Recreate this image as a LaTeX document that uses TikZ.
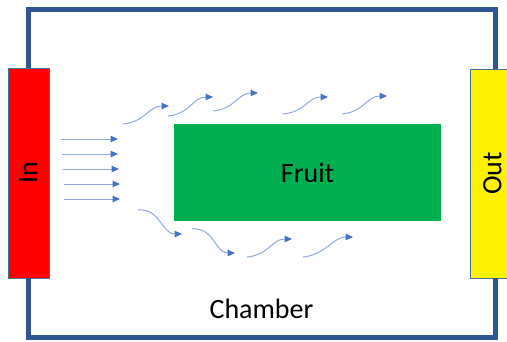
\documentclass[tikz,border=0pt]{standalone}
\usepackage{fontspec}
\setmainfont{Carlito}
\usetikzlibrary{arrows.meta}
\definecolor{wallblue}{HTML}{2F5597}
\definecolor{flowline}{HTML}{8FAADC}
\definecolor{flowtip}{HTML}{4472C4}
\definecolor{boxedge}{HTML}{41719C}
\definecolor{fruitgreen}{HTML}{00B050}
\tikzset{
  wall/.style={draw=wallblue, line width=5pt},
  port/.style={draw=boxedge, line width=0.6pt, inner sep=0pt, font=\fontsize{28}{32}\selectfont},
  flow/.style={draw=flowline, line width=1pt, -{Triangle[length=7.5pt,width=6.5pt,color=flowtip]}},
}

\begin{document}
\begin{tikzpicture}[x=1pt,y=-1pt]
  \useasboundingbox (0,0) rectangle (507,341);

  \node[port, fill=red, minimum width=41pt, minimum height=210pt] (in) at (28.5,173) {\rotatebox{90}{In}};
  \node[port, fill=yellow, minimum width=51pt, minimum height=209pt] (out) at (495.5,173.5) {\rotatebox{90}{Out}\hspace*{6pt}};
  \node[fill=fruitgreen, minimum width=267pt, minimum height=97pt, inner sep=0pt,
        font=\fontsize{28}{32}\selectfont] (fruit) at (307.5,172.5) {Fruit};
  \node[anchor=base, inner sep=0pt, font=\fontsize{28}{32}\selectfont] (chamber) at (261.5,318) {Chamber};

  \draw[wall] (in.north) -- ++(0,-58) -| (out.north);
  \draw[wall] (in.south) -- ++(0,59) -| (out.south);

  \foreach \y/\xa/\xb [count=\i] in {139/61/118, 154/62/118, 169/63/119, 184/64/120, 199/64/120} {
    \coordinate (s\i) at (\xa,\y);
    \coordinate (t\i) at (\xb,\y);
    \draw[flow] (s\i) -- (t\i);
  }

  \foreach \xa/\ya/\xb/\yb [count=\i] in {123/124/169/106, 168/116/213/97, 213/111/258/93,
      283/114/328/97, 342/114/387/96, 138/210/182/234, 192/229/235/253,
      247/257/292/239, 303/257/353/237} {
    \coordinate (w\i) at (\xa,\ya);
    \coordinate (v\i) at (\xb,\yb);
    \draw[flow] (w\i) .. controls +(22,-2) and +(-20,0) .. (v\i);
  }
\end{tikzpicture}
\end{document}
